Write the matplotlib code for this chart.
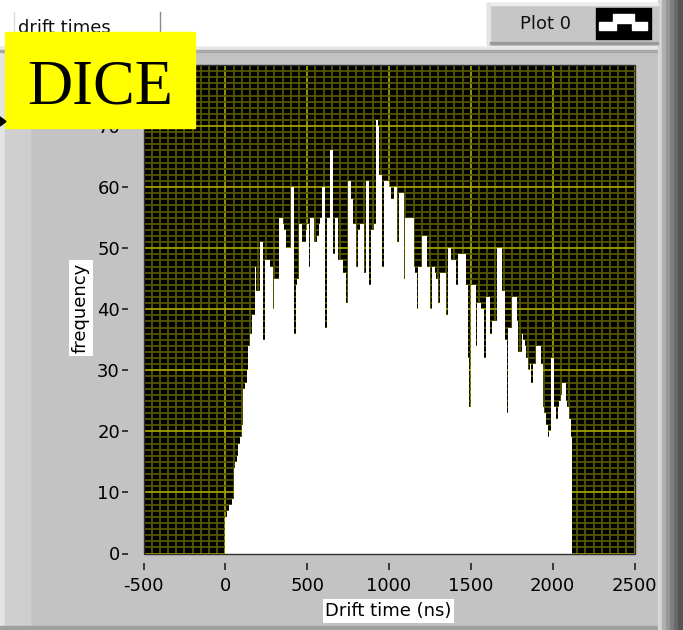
import numpy as np
import matplotlib.pyplot as plt
from matplotlib.patches import Rectangle, Polygon
from matplotlib.ticker import MultipleLocator

plt.rcParams['axes.unicode_minus'] = False

# drift time histogram, 10 ns bins starting at 0 ns
bin_width = 10
counts = [6, 7, 8, 8, 9, 14, 15, 16, 18, 19,
          21, 27, 28, 30, 34, 36, 39, 39, 47, 43,
          43, 51, 51, 35, 48, 48, 48, 47, 47, 40,
          45, 45, 45, 55, 55, 54, 53, 50, 50, 50,
          60, 60, 36, 44, 45, 54, 54, 51, 51, 53,
          54, 47, 55, 55, 51, 51, 52, 54, 55, 60,
          60, 37, 55, 55, 66, 66, 49, 55, 55, 48,
          48, 48, 46, 46, 41, 61, 61, 58, 54, 54,
          47, 53, 54, 54, 54, 46, 61, 61, 44, 53,
          53, 54, 71, 70, 62, 62, 47, 61, 61, 61,
          60, 58, 58, 60, 60, 51, 59, 59, 59, 45,
          55, 55, 55, 55, 55, 47, 46, 40, 47, 47,
          52, 52, 52, 47, 47, 40, 47, 47, 46, 45,
          41, 46, 46, 46, 46, 39, 50, 50, 48, 48,
          48, 44, 49, 49, 49, 49, 49, 44, 32, 24,
          44, 44, 44, 34, 41, 41, 40, 40, 32, 42,
          42, 42, 36, 38, 38, 38, 50, 50, 50, 43,
          43, 35, 23, 37, 37, 42, 42, 42, 38, 33,
          33, 36, 35, 34, 32, 30, 31, 28, 31, 31,
          34, 34, 34, 31, 24, 23, 21, 19, 20, 32,
          32, 24, 22, 24, 25, 26, 28, 28, 25, 24,
          22, 19, 0, 0, 0, 0, 0, 0, 0, 0]

x_ticks = [-500, 0, 500, 1000, 1500, 2000, 2500]
y_ticks = [0, 10, 20, 30, 40, 50, 60, 70]

edges = np.arange(len(counts) + 1) * bin_width

W, H = 683, 630
fig = plt.figure(figsize=(W / 100, H / 100), dpi=100)
fig.patch.set_facecolor('white')

# --- LabVIEW panel behind the graph (pixel coords, y down) ---
bg = fig.add_axes([0, 0, 1, 1], zorder=-1)
bg.set_xlim(0, W)
bg.set_ylim(H, 0)
bg.axis('off')
bg.add_patch(Rectangle((0, 47), W, H - 47, color='#c3c3c3'))
bg.add_patch(Rectangle((0, 47), 5, H - 47, color='#e4e4e4'))
bg.add_patch(Rectangle((5, 47), 25, H - 47, color='#cfcfcf'))
bg.add_patch(Rectangle((0, 47), W, 3, color='#e8e8e8'))
bg.add_patch(Rectangle((0, 50), W, 2, color='#a8a8a8'))
bg.add_patch(Rectangle((0, H - 4), W, 4, color='#a0a0a0'))
# right window edge
shades = ['#d6d6d6', '#b0b0b0', '#999999', '#808080', '#6a6a6a', '#555555']
for i, c in enumerate(shades):
    bg.add_patch(Rectangle((658 + i * 4, 0), 4 if i < 5 else 8, H, color=c))

# legend panel "Plot 0"
bg.add_patch(Rectangle((487, 3), 171, 42, color='#c6c6c6'))
bg.add_patch(Rectangle((487, 3), 171, 2, color='#ececec'))
bg.add_patch(Rectangle((487, 3), 3, 42, color='#e4e4e4'))
bg.add_patch(Rectangle((490, 42), 168, 2, color='#9a9a9a'))
bg.text(546, 24, 'Plot 0', fontsize=13, ha='center', va='center', color='#111111')
bg.add_patch(Rectangle((596, 8), 55, 31, color='black'))
bg.add_patch(Rectangle((599, 21.5), 17, 8, color='white'))
bg.add_patch(Rectangle((612.5, 13.5), 21.5, 9, color='white'))
bg.add_patch(Rectangle((631.5, 21.5), 15.5, 8, color='white'))

# "drift times" label box
bg.plot([160, 160], [12, 42], color='#8a8a8a', lw=1)
bg.plot([14, 14], [12, 42], color='#dddddd', lw=1)
bg.text(18, 28, 'drift times', fontsize=13, ha='left', va='center', color='#111111')

# axis labels with white boxes
bg.text(388.5, 611, 'Drift time (ns)', fontsize=13, ha='center', va='center',
        bbox=dict(boxstyle='square,pad=0.15', fc='white', ec='none'))
bg.text(81, 308, 'frequency', fontsize=13, ha='center', va='center', rotation=90,
        bbox=dict(boxstyle='square,pad=0.15', fc='white', ec='none'))

# --- the graph itself ---
left, right, top, bottom = 143.5, 634.5, 65, 553.5
ax = fig.add_axes([left / W, 1 - bottom / H, (right - left) / W, (bottom - top) / H])
ax.set_facecolor('black')
ax.stairs(counts, edges, fill=True, color='white', antialiased=False, zorder=2)

ax.set_xlim(-500, 2500)
ax.set_ylim(0, 80)
ax.set_xticks(x_ticks)
ax.set_yticks(y_ticks)
ax.xaxis.set_minor_locator(MultipleLocator(50))
ax.yaxis.set_minor_locator(MultipleLocator(1))
ax.set_axisbelow(True)
ax.grid(which='minor', color='#565600', lw=1.3)
ax.grid(which='major', color='#a0a000', lw=1.3)

for s in ['top', 'right']:
    ax.spines[s].set_visible(False)
ax.spines['left'].set_position(('outward', 11))
ax.spines['bottom'].set_position(('outward', 7))
ax.spines['left'].set_visible(False)
ax.spines['bottom'].set_visible(False)
ax.tick_params(which='minor', length=0)
ax.tick_params(axis='y', which='major', direction='out', length=4.5, width=1.2,
               color='#222222', labelsize=13, pad=1.5)
ax.tick_params(axis='x', which='major', direction='out', length=5, width=1.2,
               color='#222222', labelsize=13, pad=5)
ax.add_patch(Rectangle((0, 0), 1, 1, transform=ax.transAxes, fill=False,
                       ec='#303030', lw=1, zorder=5, clip_on=False))

# --- overlay: DICE tag ---
ov = fig.add_axes([0, 0, 1, 1], zorder=5)
ov.set_xlim(0, W)
ov.set_ylim(H, 0)
ov.axis('off')
ov.patch.set_alpha(0)
ov.add_patch(Rectangle((5, 32), 190, 96, color='#ffff00'))
ov.text(100, 103, 'DICE', family='Liberation Serif', fontsize=45,
        ha='center', va='baseline', color='black')
ov.add_patch(Polygon([(0, 117), (6, 121.5), (0, 126)], color='black'))

fig.savefig('out.png', dpi=100)
